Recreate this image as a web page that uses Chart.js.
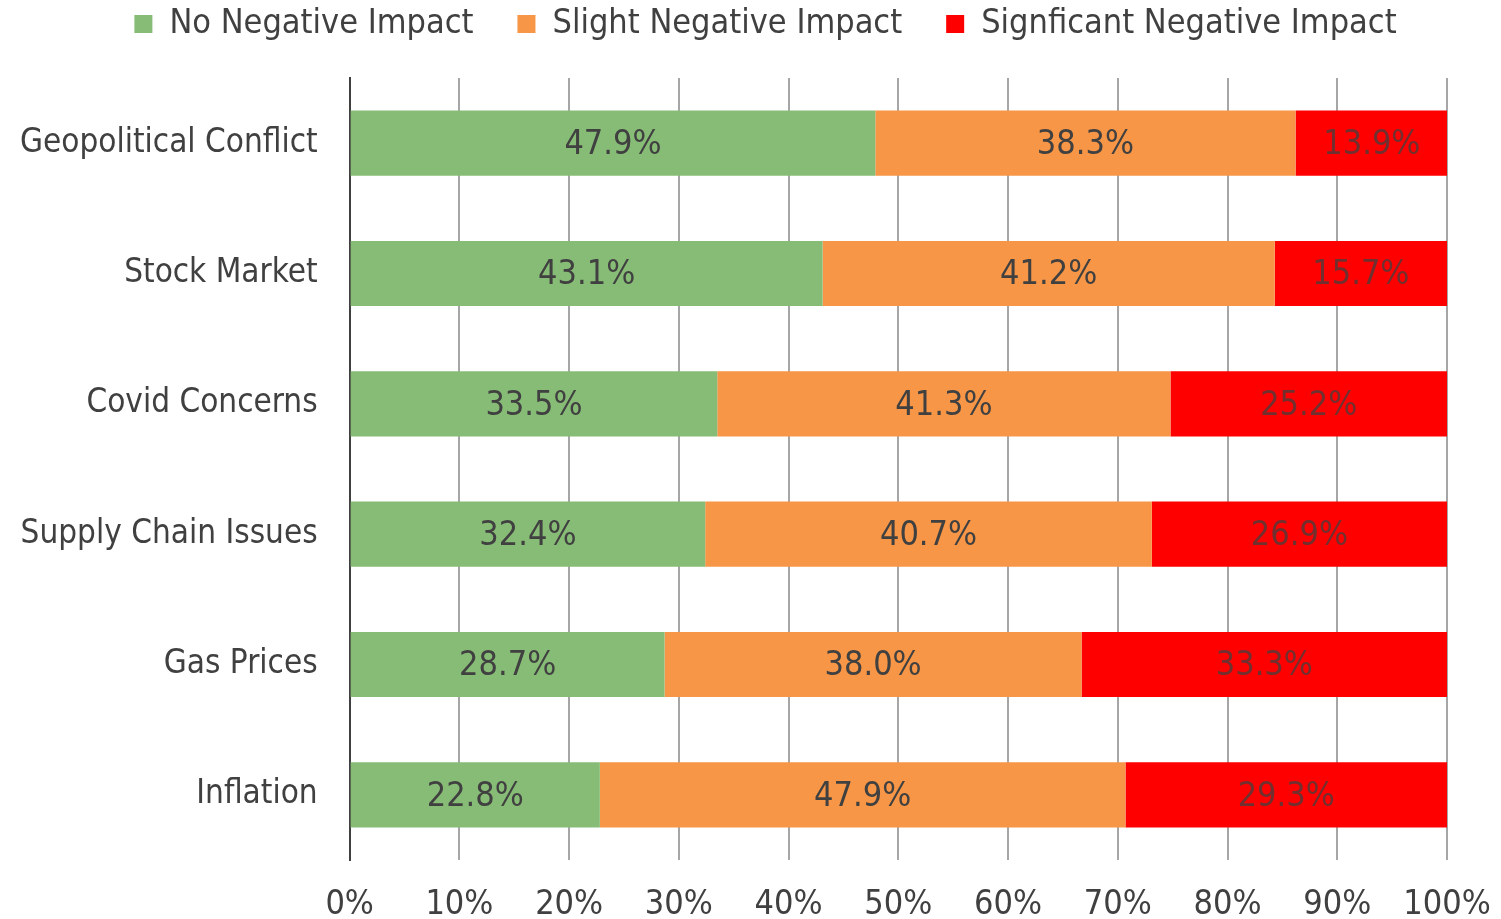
<!DOCTYPE html>
<html>
<head>
<meta charset="utf-8">
<script src="https://cdn.jsdelivr.net/npm/chart.js@4.4.0/dist/chart.umd.min.js"></script>
<style>
  html, body { margin: 0; padding: 0; background: #fff; }
  canvas { display: block; }
</style>
</head>
<body>
<canvas id="impactChart" width="1501" height="919"></canvas>
<script>
const categories = [
  "Geopolitical Conflict",
  "Stock Market",
  "Covid Concerns",
  "Supply Chain Issues",
  "Gas Prices",
  "Inflation",
];
const noImpact = [47.9, 43.1, 33.5, 32.4, 28.7, 22.8];
const slightImpact = [38.3, 41.2, 41.3, 40.7, 38.0, 47.9];
const significantImpact = [13.9, 15.7, 25.2, 26.9, 33.3, 29.3];
const xTicks = [0, 10, 20, 30, 40, 50, 60, 70, 80, 90, 100];

const FONT = "'DejaVu Sans Condensed', 'DejaVu Sans', sans-serif";

// draws the value in the middle of each bar segment
const barLabels = {
  id: "barLabels",
  afterDatasetsDraw(chart) {
    const ctx = chart.ctx;
    ctx.save();
    ctx.font = "34px " + FONT;
    ctx.textAlign = "center";
    ctx.textBaseline = "middle";
    chart.data.datasets.forEach((ds, i) => {
      ctx.fillStyle = i === 2 ? "rgba(64,64,64,0.75)" : "#404040";
      chart.getDatasetMeta(i).data.forEach((bar, j) => {
        const p = bar.getProps(["x", "y", "base"], true);
        const cx = (p.x + p.base) / 2;
        ctx.fillText(ds.data[j].toFixed(1) + "%", cx, p.y + 2);
      });
    });
    ctx.restore();
  },
};

// extra room between legend and plot, legend nudged right a bit
const legendGap = {
  id: "legendGap",
  beforeInit(chart) {
    const origFit = chart.legend.fit;
    chart.legend.fit = function () {
      origFit.call(this);
      this.height += 27;
    };
  },
  afterLayout(chart) {
    chart.legend.left += 21;
    chart.legend.right += 21;
  },
};

const ctx = document.getElementById("impactChart").getContext("2d");

new Chart(ctx, {
  type: "bar",
  data: {
    labels: categories,
    datasets: [
      {
        label: "No Negative Impact",
        data: noImpact,
        backgroundColor: "#87BC76",
      },
      {
        label: "Slight Negative Impact",
        data: slightImpact,
        backgroundColor: "#F79646",
      },
      {
        label: "Signficant Negative Impact",
        data: significantImpact,
        backgroundColor: "#FF0000",
      },
    ],
  },
  options: {
    responsive: false,
    animation: false,
    indexAxis: "y",
    categoryPercentage: 1,
    barPercentage: 0.5,
    layout: { padding: { left: -12, right: 0, top: -37, bottom: -31 } },
    plugins: {
      legend: {
        position: "top",
        labels: {
          boxWidth: 18,
          boxHeight: 18,
          padding: 44,
          color: "#404040",
          font: { family: FONT, size: 34 },
        },
      },
      tooltip: { enabled: false },
    },
    scales: {
      x: {
        stacked: true,
        min: 0,
        max: 100,
        afterBuildTicks(axis) {
          axis.ticks = xTicks.map((v) => ({ value: v }));
        },
        afterFit(axis) {
          axis.paddingRight = 54;
        },
        ticks: {
          callback: (v) => v + "%",
          color: "#404040",
          padding: 28,
          maxRotation: 0,
          font: { family: FONT, size: 34, lineHeight: 1 },
        },
        grid: {
          color: "#A6A6A6",
          lineWidth: 2,
          drawTicks: false,
        },
        border: { display: false },
      },
      y: {
        stacked: true,
        ticks: {
          color: "#404040",
          padding: 32,
          font: { family: FONT, size: 33 },
        },
        grid: { display: false, drawTicks: false },
        border: { display: true, color: "#404040", width: 2 },
      },
    },
  },
  plugins: [barLabels, legendGap],
});
</script>
</body>
</html>
